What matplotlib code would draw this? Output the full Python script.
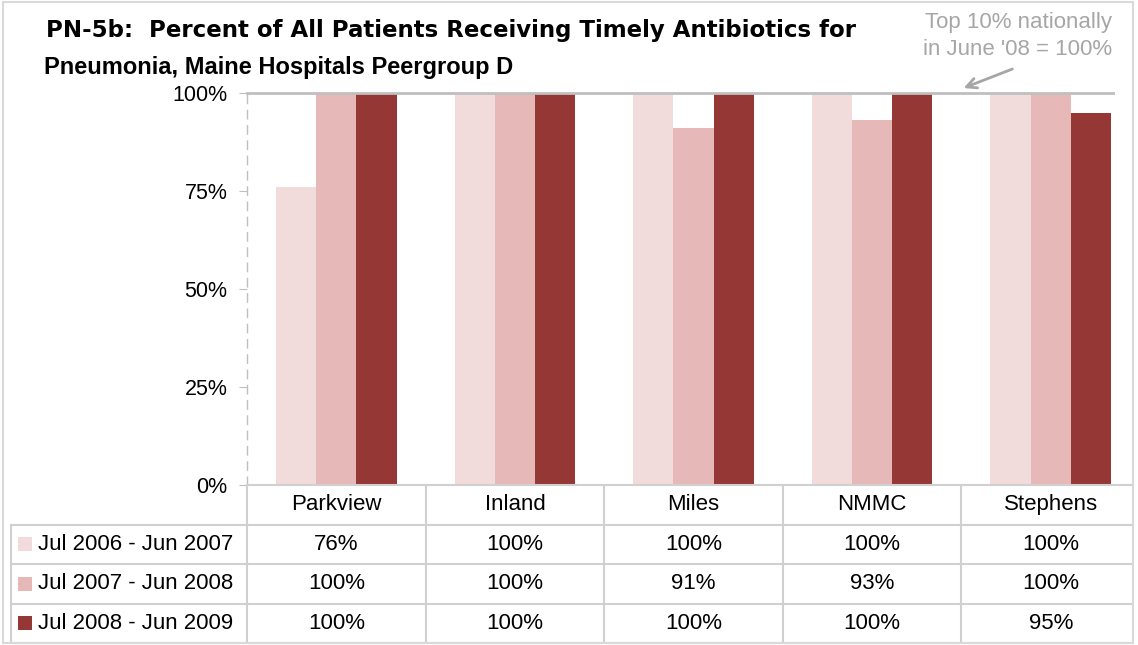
import matplotlib
matplotlib.use("Agg")
import numpy as np
import matplotlib.pyplot as plt
from matplotlib.patches import Rectangle

plt.rcParams['font.family'] = ['Liberation Sans', 'DejaVu Sans']

hospitals = ["Parkview", "Inland", "Miles", "NMMC", "Stephens"]
periods = ["Jul 2006 - Jun 2007", "Jul 2007 - Jun 2008", "Jul 2008 - Jun 2009"]
vals_0607 = [76, 100, 100, 100, 100]
vals_0708 = [100, 100, 91, 93, 100]
vals_0809 = [100, 100, 100, 100, 95]
series = [vals_0607, vals_0708, vals_0809]
colors = ["#F2DCDB", "#E6B9B8", "#953735"]
benchmark = 100  # top 10% nationally, June '08

W, H = 1138, 645
fig = plt.figure(figsize=(W / 100, H / 100), dpi=100)

# pixel layout helpers
col_w = 178.6
x0_px = 247
def u(px):
    return (px - x0_px) / col_w - 0.5

right_px = 1133
ax = fig.add_axes([x0_px / W, 1 - 485 / H, (right_px - x0_px) / W, 392 / H])
x = np.arange(len(hospitals))
bw = 0.225
for k, vals in enumerate(series):
    ax.bar(x + (k - 1) * bw, np.array(vals) / 100, bw, color=colors[k], zorder=2)

ax.set_xlim(u(x0_px), u(right_px))
ax.set_ylim(0, 1)
ax.set_yticks([0, 0.25, 0.5, 0.75, 1.0])
ax.set_yticklabels(["0%", "25%", "50%", "75%", "100%"])
ax.tick_params(axis='y', length=6, pad=8, labelsize=15.5, colors='#BFBFBF',
               labelcolor='black')
ax.set_xticks([])
for s in ['top', 'right', 'bottom']:
    ax.spines[s].set_visible(False)
ax.spines['left'].set_color('#BFBFBF')
ax.spines['left'].set_linestyle((0, (6, 5)))
ax.spines['left'].set_linewidth(1)

# benchmark line
ax.plot([u(x0_px), u(1113)], [benchmark / 100] * 2, color='#BFBFBF', lw=2,
        zorder=3, clip_on=False)

# annotation
fig.text(1112 / W, 1 - 55 / H, "Top 10% nationally\nin June '08 = 100%",
         ha='right', va='baseline', fontsize=16, color='#A6A6A6',
         linespacing=1.35)
fig.add_artist(matplotlib.patches.FancyArrowPatch(
    (1015 / W, 1 - 68 / H), (961 / W, 1 - 89 / H), transform=fig.transFigure,
    arrowstyle='->', mutation_scale=18, color='#A6A6A6', lw=2))

# title (first line is drawn wider in the original)
fig.text(46 / W, 1 - 37 / H,
         "PN-5b:  Percent of All Patients Receiving Timely Antibiotics for",
         ha='left', va='baseline', fontsize=16.5, fontweight='bold',
         family=['DejaVu Sans'])
fig.text(44 / W, 1 - 74 / H, "Pneumonia, Maine Hospitals Peergroup D",
         ha='left', va='baseline', fontsize=17, fontweight='bold')

# data table
tax = fig.add_axes([11 / W, 1 - 643 / H, (right_px - 11) / W, 158 / H])
tax.set_xlim(u(11), u(right_px))
tax.set_ylim(4, 0)
tax.axis('off')
lc = '#D0D0D0'
left = u(11)
rgt = u(right_px)
tax.plot([-0.5, rgt], [0, 0], color=lc, lw=1.5, clip_on=False)
for r in [1, 2, 3, 4]:
    tax.plot([left, rgt], [r, r], color=lc, lw=1.5, clip_on=False)
tax.plot([left, left], [1, 4], color=lc, lw=1.5, clip_on=False)
for c in np.arange(len(hospitals)) - 0.5:
    tax.plot([c, c], [0, 4], color=lc, lw=1.5, clip_on=False)

fs = 16
for i, name in enumerate(hospitals):
    tax.text(i, 0.5, name, ha='center', va='center', fontsize=fs)
for k, vals in enumerate(series):
    for i, v in enumerate(vals):
        tax.text(i, k + 1.5, f"{v}%", ha='center', va='center', fontsize=fs)
    tax.plot([u(24.5)], [k + 1.5], marker='s', ms=9.5, color=colors[k], mew=0)
    tax.text(u(38), k + 1.5, periods[k], ha='left', va='center', fontsize=fs)

# outer chart border
fig.add_artist(Rectangle((3 / W, 2 / H), 1130 / W, 641 / H, transform=fig.transFigure,
                         fill=False, ec='#D9D9D9', lw=1.5))

fig.savefig("out.png", dpi=100)
